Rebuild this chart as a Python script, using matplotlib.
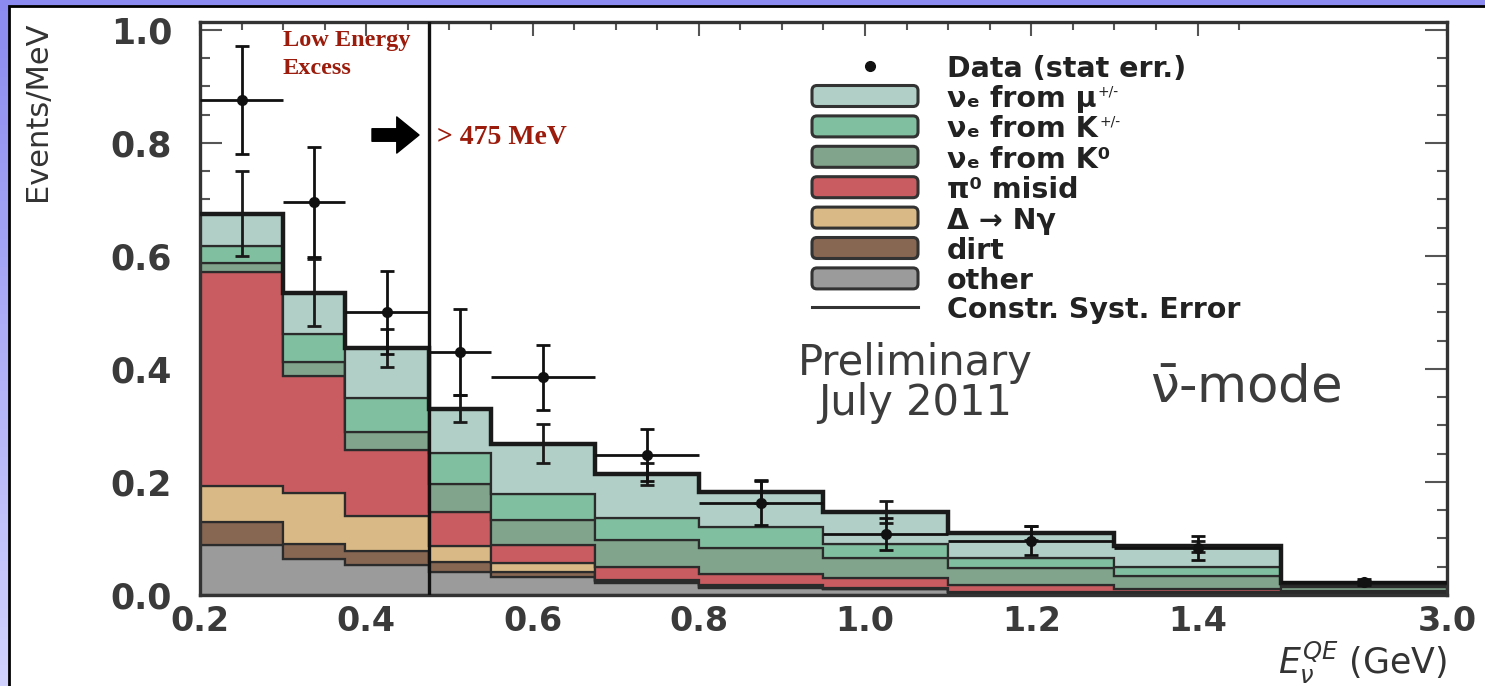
import numpy as np
import matplotlib
matplotlib.use("Agg")
import matplotlib.pyplot as plt
from matplotlib.patches import Rectangle, FancyBboxPatch
from matplotlib.colors import LinearSegmentedColormap
from matplotlib.ticker import MultipleLocator, FormatStrFormatter

plt.rcParams["font.family"] = ["DejaVu Sans"]
plt.rcParams["mathtext.fontset"] = "dejavusans"

# bin edges in E_nu^QE (GeV)
bin_edges = [0.2, 0.3, 0.375, 0.475, 0.55, 0.675, 0.8, 0.95, 1.1, 1.3, 1.5, 3.0]

# stacked background components (Events/MeV), bottom to top
other = [0.088, 0.063, 0.053, 0.041, 0.031, 0.022, 0.013, 0.010, 0.004, 0.003, 0.002]
dirt = [0.042, 0.028, 0.024, 0.018, 0.010, 0.003, 0.002, 0.001, 0.001, 0.001, 0.001]
delta_ngamma = [0.063, 0.089, 0.062, 0.027, 0.015, 0.002, 0.002, 0.001, 0.001, 0.001, 0.001]
pi0_misid = [0.379, 0.208, 0.118, 0.061, 0.032, 0.023, 0.020, 0.018, 0.012, 0.005, 0.003]
nue_k0 = [0.015, 0.025, 0.032, 0.049, 0.044, 0.047, 0.046, 0.036, 0.029, 0.024, 0.007]
nue_kpm = [0.030, 0.049, 0.059, 0.055, 0.046, 0.039, 0.038, 0.024, 0.019, 0.016, 0.004]
nue_mu = [0.058, 0.073, 0.089, 0.079, 0.090, 0.078, 0.062, 0.057, 0.044, 0.036, 0.004]

# constrained systematic error on total prediction
syst_err = [0.075, 0.059, 0.034, 0.024, 0.034, 0.020, 0.020, 0.020, 0.012, 0.010, 0.003]

# data with statistical errors
data_y = [0.876, 0.696, 0.500, 0.430, 0.385, 0.248, 0.162, 0.108, 0.096, 0.083, 0.023]
data_stat = [0.095, 0.097, 0.073, 0.076, 0.057, 0.046, 0.039, 0.028, 0.026, 0.021, 0.005]

x_ticks = [0.2, 0.4, 0.6, 0.8, 1.0, 1.2, 1.4, 3.0]

# legend labels, top to bottom (superscript "+/-" added as small text)
legend_labels = ["\u03bd\u2091 from \u03bc", "\u03bd\u2091 from K", "\u03bd\u2091 from K\u2070",
                 "\u03c0\u2070 misid", "\u0394 \u2192 N\u03b3", "dirt", "other"]
legend_sups = ["+/-", "+/-", "", "", "", "", ""]

stack = [other, dirt, delta_ngamma, pi0_misid, nue_k0, nue_kpm, nue_mu]
stack_colors = ["#9b9b9b", "#876652", "#d9b985", "#c85c60", "#80a48c", "#80c0a0", "#b1cfc7"]


# last bin (1.5 - 3.0 GeV) is squeezed, as in the original plot
def fwd(x):
    x = np.asarray(x, dtype=float)
    return np.where(x <= 1.5, x, 1.5 + (x - 1.5) * 0.2 / 1.5)


def inv(u):
    u = np.asarray(u, dtype=float)
    return np.where(u <= 1.5, u, 1.5 + (u - 1.5) * 1.5 / 0.2)


def axpos(px, py):
    # pixel position in the picture -> axes fraction
    return (px - 200) / 1247, (595 - py) / 573


fig = plt.figure(figsize=(14.85, 6.86), dpi=100)

# slide background
bg = fig.add_axes([0, 0, 1, 1], zorder=-5)
grad = np.linspace(0, 1, 256).reshape(-1, 1)
cmap = LinearSegmentedColormap.from_list("slide", ["#8a8af0", "#d2d2ff"])
bg.imshow(grad, extent=[0, 1, 0, 1], aspect="auto", cmap=cmap, origin="upper")
bg.add_patch(Rectangle((9 / 1485, -0.05), 1.2, 0.05 + 680 / 686, transform=bg.transAxes,
                       facecolor="white", edgecolor="black", lw=2))
bg.set_xlim(0, 1)
bg.set_ylim(0, 1)
bg.axis("off")

ax = fig.add_axes([200 / 1485, 91 / 686, 1247 / 1485, 573 / 686])
ax.set_xscale("function", functions=(fwd, inv))

edges = np.array(bin_edges)
centers = (edges[:-1] + edges[1:]) / 2
halfw = (edges[1:] - edges[:-1]) / 2

bottom = np.zeros(len(other))
for vals, col in zip(stack, stack_colors):
    top = bottom + np.array(vals)
    ax.stairs(top, edges, baseline=bottom, fill=True, facecolor=col,
              edgecolor="#2b2b2b", lw=1.6, zorder=2)
    bottom = top
total = bottom

ax.stairs(total, edges, baseline=None, color="#1a1a1a", lw=3.2, zorder=3)
ax.errorbar(centers, total, yerr=syst_err, fmt="none", ecolor="#1a1a1a",
            elinewidth=2, capsize=5, capthick=2, zorder=4)

ax.errorbar(centers, data_y, xerr=halfw, fmt="none", ecolor="#111111",
            elinewidth=2, capsize=0, zorder=5)
ax.errorbar(centers, data_y, yerr=data_stat, fmt="o", color="#111111", ms=7,
            elinewidth=2, capsize=5, capthick=2, zorder=6)

ax.axvline(0.475, color="#111111", lw=2.4, zorder=4)

ax.set_xlim(0.2, 3.0)
ax.set_ylim(0, 1.014)

ax.set_xticks(x_ticks)
ax.set_xticks(np.arange(0.25, 1.5, 0.05), minor=True)
ax.xaxis.set_major_formatter(FormatStrFormatter("%.1f"))
ax.yaxis.set_major_locator(MultipleLocator(0.2))
ax.yaxis.set_minor_locator(MultipleLocator(0.05))
ax.yaxis.set_major_formatter(FormatStrFormatter("%.1f"))

ax.tick_params(axis="y", which="both", direction="in", left=True, right=True,
               width=1.5, color="#555555", labelsize=25, labelcolor="#3a3a3a", pad=20)
ax.tick_params(axis="y", which="major", length=16)
ax.tick_params(axis="y", which="minor", length=7)
ax.tick_params(axis="x", which="both", direction="in", top=True, bottom=False,
               width=1.5, color="#555555", labelsize=24, labelcolor="#3a3a3a", pad=7)
ax.tick_params(axis="x", which="major", length=10)
ax.tick_params(axis="x", which="minor", length=6)
for lab in ax.get_xticklabels() + ax.get_yticklabels():
    lab.set_fontweight("bold")

for sp in ax.spines.values():
    sp.set_linewidth(2.4)
    sp.set_color("#333333")

ax.set_ylabel("Events/MeV", fontsize=22, color="#333333", va="center")
ax.yaxis.set_label_coords(*axpos(38, 111))
ax.set_xlabel(r"$E_{\nu}^{QE}$ (GeV)", fontsize=25, color="#333333", ha="right")
ax.xaxis.set_label_coords(1.0, (595 - 674) / 573)
ax.xaxis.label.set_va("baseline")

# legend drawn by hand to match row spacing
tx = axpos(947, 0)[0]
ax.plot(*axpos(870, 66), "o", color="#111111", ms=7, transform=ax.transAxes,
        clip_on=False)
ax.text(tx, axpos(0, 66)[1], "Data (stat err.)", transform=ax.transAxes,
        fontsize=20.5, fontweight="bold", color="#222222", va="center_baseline")
for i, (lab, sup, col) in enumerate(zip(legend_labels, legend_sups, stack_colors[::-1])):
    yc = 96 + 30.4 * i
    x0, y0 = axpos(812, yc + 10.5)
    x1, y1 = axpos(918, yc - 10.5)
    ax.add_patch(FancyBboxPatch((x0, y0), x1 - x0, y1 - y0,
                                boxstyle="round,pad=0,rounding_size=0.004",
                                mutation_aspect=2.2, transform=ax.transAxes,
                                facecolor=col, edgecolor="#333333", lw=2.2, zorder=7))
    t = ax.text(tx, axpos(0, yc)[1], lab, transform=ax.transAxes, fontsize=20.5,
                fontweight="bold", color="#222222", va="center_baseline")
    if sup:
        ax.annotate(sup, xy=(1, 0.78), xycoords=t, xytext=(1, 0),
                    textcoords="offset points", fontsize=10, color="#222222",
                    ha="left", va="center")
lx0, ly = axpos(812, 307)
lx1, _ = axpos(918, 307)
ax.plot([lx0, lx1], [ly, ly], color="#333333", lw=2.2, transform=ax.transAxes)
ax.text(tx, ly, "Constr. Syst. Error", transform=ax.transAxes, fontsize=20.5,
        fontweight="bold", color="#222222", va="center_baseline")

ax.text(*axpos(915, 383), "Preliminary\nJuly 2011", transform=ax.transAxes,
        fontsize=30, color="#3c3c3c", ha="center", va="center", linespacing=0.95)
ax.text(*axpos(1150, 402), r"$\bar{\mathrm{\nu}}$-mode", transform=ax.transAxes,
        fontsize=37, color="#3c3c3c", ha="left", va="baseline")

red = "#9b1c0c"
ax.text(*axpos(283, 30), "Low Energy\nExcess", transform=ax.transAxes,
        family=["Liberation Serif"], fontweight="bold", fontsize=17.5, color=red,
        ha="left", va="top", linespacing=1.45)
ax.text(*axpos(437, 137), "> 475 MeV", transform=ax.transAxes,
        family=["Liberation Serif"], fontweight="bold", fontsize=20, color=red,
        ha="left", va="center")
ax.annotate("", xy=axpos(419, 135), xytext=axpos(372, 135),
            xycoords="axes fraction", textcoords="axes fraction",
            arrowprops=dict(arrowstyle="simple,head_length=0.8,head_width=1.3,tail_width=0.45",
                            mutation_scale=20, color="black", shrinkA=0, shrinkB=0))

fig.savefig("out.png", dpi=100)
